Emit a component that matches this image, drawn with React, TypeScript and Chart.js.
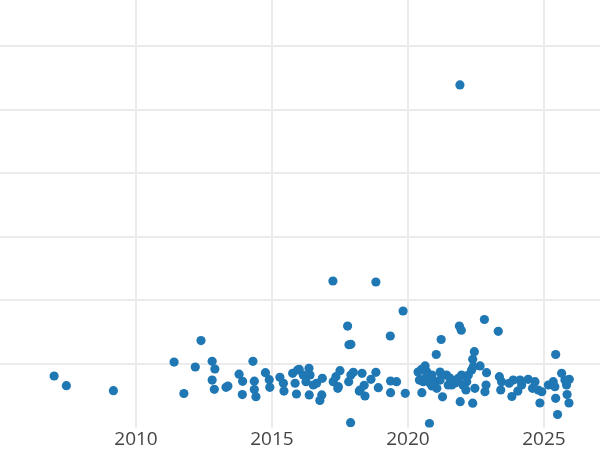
import React, { useEffect, useRef } from 'react';
import { Chart, registerables } from 'chart.js';

Chart.register(...registerables);

// x position of each point (decimal year)
const years: number[] = [
  2006.99, 2007.44, 2009.17, 2011.40, 2011.76, 2012.18, 2012.39, 2012.80, 2012.90, 2012.80,
  2012.88, 2013.31, 2013.38, 2013.79, 2013.92, 2013.91, 2014.30, 2014.35, 2014.35, 2014.41,
  2014.76, 2014.90, 2014.92, 2015.29, 2015.42, 2015.44, 2015.76, 2015.85, 2015.90, 2015.94,
  2016.00, 2016.15, 2016.25, 2016.36, 2016.40, 2016.37, 2016.52, 2016.64, 2016.83, 2016.76,
  2016.85, 2017.25, 2017.35, 2017.44, 2017.50, 2017.82, 2017.90, 2017.99, 2018.21, 2018.31,
  2018.39, 2018.42, 2018.64, 2018.82, 2018.91, 2019.36, 2019.58, 2019.36, 2019.90, 2017.42,
  2018.24, 2017.24, 2018.82, 2019.82, 2017.78, 2017.83, 2017.90, 2019.35, 2017.89, 2020.79,
  2021.91, 2021.04, 2021.22, 2021.89, 2021.96, 2022.81, 2023.32, 2022.44, 2022.38, 2022.65,
  2025.43, 2025.50, 2021.92, 2022.38, 2024.85, 2025.92, 2025.85, 2023.82, 2023.41, 2021.27,
  2020.51, 2020.50, 2020.69, 2020.42, 2020.56, 2020.75, 2020.81, 2020.99, 2021.06, 2021.42,
  2021.48, 2021.61, 2021.85, 2021.97, 2022.16, 2022.22, 2022.34, 2022.40, 2022.13, 2022.46,
  2022.89, 2022.87, 2022.83, 2023.36, 2023.44, 2023.72, 2023.87, 2024.18, 2024.42, 2024.67,
  2024.58, 2024.79, 2024.92, 2025.16, 2025.34, 2025.40, 2025.43, 2025.65, 2025.77, 2025.93,
  2025.83, 2020.63, 2020.88, 2021.18, 2021.73, 2022.02, 2021.18, 2024.12, 2024.04, 2020.37,
  2020.63, 2020.88, 2021.54,
];

// y value of each point, same order as years
const values: number[] = [
  8.11, 6.59, 5.80, 10.31, 5.36, 9.53, 13.69, 10.42, 9.21, 7.48,
  6.02, 6.34, 6.54, 8.40, 7.28, 5.20, 10.42, 7.30, 5.99, 4.86,
  8.63, 7.53, 6.34, 7.91, 6.97, 5.75, 8.54, 6.97, 5.28, 9.06,
  9.17, 8.27, 7.22, 9.32, 8.27, 5.13, 6.70, 6.97, 5.13, 4.26,
  7.75, 7.22, 8.00, 6.43, 8.95, 7.22, 8.27, 8.69, 5.75, 8.54,
  6.65, 4.97, 7.59, 8.69, 6.27, 7.33, 7.22, 5.49, 5.39, 6.18,
  5.91, 23.05, 22.89, 18.33, 15.97, 13.03, 13.10, 14.40, 0.77, 0.64,
  53.87, 11.49, 13.85, 15.97, 15.31, 17.00, 15.14, 11.93, 10.74, 9.69,
  11.49, 2.06, 4.07, 3.84, 3.87, 3.87, 5.20, 4.89, 5.91, 4.84,
  5.49, 9.17, 8.79, 7.48, 7.22, 8.27, 6.97, 7.22, 6.18, 8.27,
  6.70, 6.70, 7.75, 8.27, 7.22, 8.27, 9.06, 9.58, 5.91, 6.18,
  8.63, 6.70, 5.64, 8.00, 7.22, 6.97, 7.48, 6.70, 7.59, 7.22,
  6.18, 5.91, 5.64, 6.70, 7.22, 6.43, 4.61, 8.54, 7.48, 7.59,
  6.70, 7.80, 6.54, 7.48, 7.01, 6.70, 8.74, 7.48, 5.75, 8.74,
  9.69, 8.27, 7.80,
];

const xTicks: number[] = [2010, 2015, 2020, 2025];
const yGrid: number[] = [10, 20, 30, 40, 50, 60];

const App: React.FC = () => {
  const canvasRef = useRef<HTMLCanvasElement>(null);
  const chartRef = useRef<Chart | null>(null);

  useEffect(() => {
    const ctx = canvasRef.current?.getContext('2d');
    if (!ctx) return;

    const points = years.map((x, i) => ({ x, y: values[i] }));

    chartRef.current = new Chart(ctx, {
      type: 'scatter',
      data: {
        datasets: [{
          data: points,
          backgroundColor: '#1f77b4',
          borderWidth: 0,
          pointRadius: 4.6,
          pointHoverRadius: 4.6,
        }],
      },
      options: {
        animation: false,
        responsive: false,
        layout: { padding: 0, autoPadding: false },
        plugins: {
          legend: { display: false },
          tooltip: { enabled: false },
        },
        scales: {
          x: {
            type: 'linear',
            min: 2005,
            max: 2027.06,
            grid: { color: '#ebebeb', lineWidth: 2, drawTicks: false },
            border: { display: false },
            ticks: {
              color: '#444',
              padding: 1,
              font: { family: 'Open Sans', size: 19 },
              callback: (v) => String(v),
            },
            afterBuildTicks: (scale) => {
              scale.ticks = xTicks.map(value => ({ value }));
            },
            afterFit: (scale) => {
              scale.height = 22.4;
            },
          },
          y: {
            type: 'linear',
            min: 0,
            max: 67.23,
            grid: { color: '#ebebeb', lineWidth: 2, drawTicks: false },
            border: { display: false },
            ticks: { display: false },
            afterBuildTicks: (scale) => {
              scale.ticks = yGrid.map(value => ({ value }));
            },
            afterFit: (scale) => {
              scale.width = 0;
            },
          },
        },
      },
    });

    return () => {
      chartRef.current?.destroy();
      chartRef.current = null;
    };
  }, []);

  return (
    <div style={{ position: 'absolute', left: 0, top: 0, width: 600, height: 450, background: '#fff' }}>
      <canvas ref={canvasRef} width={600} height={450} />
    </div>
  );
};

export default App;
